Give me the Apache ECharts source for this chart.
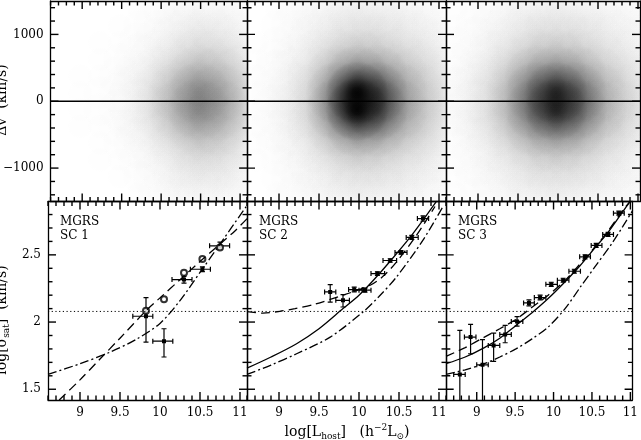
<!DOCTYPE html>
<html><head><meta charset="utf-8">
<script src="https://cdn.jsdelivr.net/npm/echarts@6/dist/echarts.min.js"></script>
<style>html,body{margin:0;padding:0;background:#fff}#c{width:641px;height:440px}</style>
</head><body><div id="c"></div>
<script>
// ---------- tick labels / tick positions ----------
const xMajor = [9, 9.5, 10, 10.5, 11];
const yTopMajor = [-1000, 0, 1000];
const yBotMajor = [1.5, 2, 2.5];
const xMinor = [], yTopMinor = [], yBotMinor = [];
for (let k = 86; k <= 111; k++) if (k % 5) xMinor.push(k / 10);
for (let k = -14; k <= 14; k += 2) if (k % 10) yTopMinor.push(k * 100);
for (let k = 15; k <= 28; k++) if (k % 5) yBotMinor.push(k / 10);

// ---------- top row: velocity-difference point density (0-10) ----------
const xBins = [8.725, 8.975, 9.225, 9.475, 9.725, 9.975, 10.225, 10.475, 10.725, 10.975];
const yBins = [1375, 1125, 875, 625, 375, 125, -125, -375, -625, -875, -1125, -1375];
const sc1Density = [
  [0, 0, 0, 0, 0.1, 0.2, 0.4, 0.6, 0.5, 0.4],
  [0, 0, 0, 0.1, 0.2, 0.4, 0.7, 1.0, 0.9, 0.6],
  [0, 0, 0.1, 0.1, 0.3, 0.6, 1.1, 1.6, 1.4, 1.0],
  [0, 0, 0.1, 0.2, 0.4, 1.0, 1.9, 2.6, 2.3, 1.6],
  [0, 0.1, 0.1, 0.3, 0.7, 1.6, 3.0, 4.4, 3.6, 2.4],
  [0, 0.1, 0.2, 0.3, 0.9, 2.2, 4.2, 6.0, 4.8, 3.0],
  [0, 0.1, 0.2, 0.3, 0.9, 2.2, 4.2, 6.0, 4.8, 3.0],
  [0, 0.1, 0.1, 0.3, 0.7, 1.6, 3.0, 4.4, 3.6, 2.4],
  [0, 0, 0.1, 0.2, 0.4, 1.0, 1.9, 2.6, 2.3, 1.6],
  [0, 0, 0.1, 0.1, 0.3, 0.6, 1.2, 1.7, 1.5, 1.1],
  [0, 0, 0, 0.1, 0.2, 0.4, 0.8, 1.1, 1.0, 0.7],
  [0, 0, 0, 0, 0.1, 0.3, 0.5, 0.7, 0.6, 0.5]
];
const sc2Density = [
  [0, 0.1, 0.3, 0.5, 0.8, 1.0, 0.9, 0.8, 0.6, 0.4],
  [0, 0.2, 0.4, 0.7, 1.1, 1.4, 1.3, 1.1, 0.8, 0.6],
  [0.1, 0.2, 0.5, 1.0, 1.7, 2.2, 2.0, 1.6, 1.2, 0.8],
  [0.1, 0.3, 0.7, 1.5, 2.9, 3.8, 3.4, 2.6, 1.8, 1.2],
  [0.1, 0.4, 1.0, 2.3, 5.0, 7.0, 6.2, 4.2, 2.7, 1.7],
  [0.1, 0.5, 1.2, 2.9, 7.0, 10, 8.8, 5.6, 3.3, 2.0],
  [0.1, 0.5, 1.2, 2.9, 7.0, 10, 8.8, 5.6, 3.3, 2.0],
  [0.1, 0.4, 1.0, 2.3, 5.0, 7.0, 6.2, 4.2, 2.7, 1.7],
  [0.1, 0.3, 0.7, 1.5, 2.9, 3.8, 3.4, 2.6, 1.8, 1.2],
  [0.1, 0.2, 0.5, 1.0, 1.7, 2.2, 2.0, 1.6, 1.2, 0.8],
  [0, 0.2, 0.4, 0.7, 1.1, 1.4, 1.3, 1.1, 0.8, 0.6],
  [0, 0.1, 0.3, 0.5, 0.8, 1.0, 0.9, 0.8, 0.6, 0.4]
];
const sc3Density = [
  [0.1, 0.2, 0.4, 0.7, 0.9, 1.0, 0.9, 0.7, 0.5, 0.4],
  [0.1, 0.3, 0.5, 0.9, 1.3, 1.4, 1.3, 1.0, 0.7, 0.5],
  [0.2, 0.4, 0.8, 1.4, 2.0, 2.2, 2.0, 1.5, 1.0, 0.7],
  [0.2, 0.6, 1.2, 2.2, 3.3, 3.8, 3.3, 2.3, 1.5, 1.0],
  [0.3, 0.8, 1.8, 3.5, 5.6, 6.6, 5.6, 3.6, 2.2, 1.4],
  [0.4, 1.0, 2.2, 4.5, 7.6, 9.4, 7.8, 4.8, 2.8, 1.7],
  [0.4, 1.0, 2.2, 4.5, 7.6, 9.4, 7.8, 4.8, 2.8, 1.7],
  [0.3, 0.8, 1.8, 3.5, 5.6, 6.6, 5.6, 3.6, 2.2, 1.4],
  [0.2, 0.6, 1.2, 2.2, 3.3, 3.8, 3.3, 2.3, 1.5, 1.0],
  [0.2, 0.4, 0.8, 1.4, 2.0, 2.2, 2.0, 1.5, 1.0, 0.7],
  [0.1, 0.3, 0.5, 0.9, 1.3, 1.4, 1.3, 1.0, 0.7, 0.5],
  [0.1, 0.2, 0.4, 0.7, 0.9, 1.0, 0.9, 0.7, 0.5, 0.4]
];
const zeroLevel = 0;

// ---------- bottom row: log sigma_sat ----------
const refLevel = 2.079;
// SC 1
const sc1X    = [9.825, 10.05, 10.3, 10.53, 10.75];
const sc1XLo  = [9.66, 9.91, 10.15, 10.38, 10.62];
const sc1XHi  = [9.91, 10.16, 10.4, 10.63, 10.87];
const sc1Y    = [2.043, 1.858, 2.316, 2.393, 2.567];
const sc1YLo  = [1.851, 1.74, 2.29, 2.375, 2.54];
const sc1YHi  = [2.182, 1.95, 2.34, 2.41, 2.595];
const sc1OpenY = [2.085, 2.169, 2.366, 2.47, 2.555];
const sc1Dashed  = [[8.74,1.42],[9.0,1.57],[9.25,1.725],[9.5,1.88],[9.83,2.087],[10.0,2.18],[10.25,2.315],[10.5,2.45],[10.75,2.58],[10.94,2.68],[11.09,2.77]];
const sc1DashDot = [[8.6,1.61],[9.0,1.69],[9.375,1.776],[9.7,1.87],[10.0,1.99],[10.25,2.16],[10.52,2.386],[10.75,2.58],[11.09,2.87]];
// SC 2
const sc2X    = [9.64, 9.80, 9.94, 10.075, 10.23, 10.39, 10.525, 10.66, 10.8];
const sc2XLo  = [9.57, 9.71, 9.87, 10.0, 10.15, 10.3, 10.45, 10.59, 10.73];
const sc2XHi  = [9.71, 9.88, 10.04, 10.15, 10.32, 10.47, 10.6, 10.74, 10.87];
const sc2Y    = [2.224, 2.162, 2.242, 2.237, 2.361, 2.458, 2.518, 2.63, 2.77];
const sc2YLo  = [2.149, 2.112, 2.225, 2.222, 2.348, 2.445, 2.505, 2.615, 2.75];
const sc2YHi  = [2.279, 2.204, 2.26, 2.252, 2.374, 2.471, 2.531, 2.645, 2.79];
const sc2Solid   = [[8.6,1.657],[8.9,1.74],[9.22,1.839],[9.5,1.95],[9.8,2.1],[10.0,2.2],[10.18,2.311],[10.4,2.46],[10.66,2.647],[10.85,2.8],[10.97,2.9]];
const sc2Dashed  = [[8.6,2.078],[8.8,2.066],[9.01,2.08],[9.2,2.1],[9.43,2.13],[9.8,2.2],[10.14,2.274],[10.3,2.34],[10.47,2.448],[10.72,2.647],[10.95,2.86]];
const sc2DashDot = [[8.6,1.61],[8.9,1.68],[9.22,1.764],[9.64,1.888],[10.05,2.075],[10.25,2.19],[10.47,2.336],[10.8,2.61],[11.05,2.86]];
// SC 3
const sc3X    = [8.78, 8.92, 9.075, 9.22, 9.37, 9.525, 9.68, 9.825, 9.97, 10.125, 10.27, 10.41, 10.555, 10.71, 10.85];
const sc3XLo  = [8.7, 8.84, 9.0, 9.15, 9.3, 9.45, 9.61, 9.75, 9.9, 10.05, 10.2, 10.34, 10.49, 10.64, 10.78];
const sc3XHi  = [8.85, 8.99, 9.15, 9.3, 9.45, 9.6, 9.75, 9.9, 10.05, 10.2, 10.35, 10.48, 10.63, 10.78, 10.92];
const sc3Y    = [1.61, 1.888, 1.682, 1.826, 1.908, 2.005, 2.142, 2.182, 2.281, 2.311, 2.378, 2.485, 2.57, 2.652, 2.81];
const sc3YLo  = [1.3, 1.764, 1.3, 1.707, 1.846, 1.97, 2.12, 2.165, 2.266, 2.296, 2.363, 2.47, 2.555, 2.637, 2.795];
const sc3YHi  = [1.938, 1.983, 1.869, 1.918, 1.975, 2.04, 2.165, 2.2, 2.296, 2.326, 2.393, 2.5, 2.585, 2.667, 2.825];
const sc3Solid   = [[8.6,1.69],[8.85,1.74],[9.1,1.81],[9.3,1.88],[9.51,1.975],[9.72,2.07],[9.93,2.175],[10.15,2.3],[10.35,2.423],[10.55,2.56],[10.7,2.66],[10.9,2.82],[11.0,2.9]];
const sc3Dashed  = [[8.6,1.744],[8.85,1.81],[9.1,1.888],[9.3,1.95],[9.51,2.02],[9.72,2.11],[9.93,2.2],[10.15,2.31],[10.35,2.436],[10.55,2.565],[10.7,2.67],[10.9,2.83],[11.0,2.9]];
const sc3DashDot = [[8.6,1.61],[8.85,1.645],[9.1,1.69],[9.3,1.74],[9.51,1.8],[9.72,1.875],[9.93,1.963],[10.15,2.1],[10.35,2.261],[10.55,2.42],[10.76,2.585],[10.9,2.71],[11.03,2.83]];
const panelNames = ['SC 1', 'SC 2', 'SC 3'];

// ---------- layout ----------
const cols = [{left: 48, width: 199, max: 11.0875}, {left: 247, width: 199, max: 11.0875}, {left: 446, width: 194, max: 11.025}];
const rows = [{top: 1, height: 200.5, min: -1500, max: 1500, major: yTopMajor, minor: yTopMinor},
              {top: 201.5, height: 198.5, min: 1.42, max: 2.897, major: yBotMajor, minor: yBotMinor}];
const XMIN = 8.6;
const FONT = 'DejaVu Serif';
const BLACK = '#000';

const grid = [], xAxis = [], yAxis = [], series = [];
const lblStyle = {color: BLACK, fontFamily: FONT, fontSize: 12};
function fmt(v) { return v < 0 ? '\u2212' + Math.abs(v) : String(v); }

for (let r = 0; r < 2; r++) {
  for (let c = 0; c < 3; c++) {
    const g = r * 3 + c, col = cols[c], row = rows[r];
    grid.push({left: col.left, top: row.top, width: col.width, height: row.height});
    const xb = {gridIndex: g, type: 'value', min: XMIN, max: col.max, splitLine: {show: false}, axisTick: {show: false}};
    const yb = {gridIndex: g, type: 'value', min: row.min, max: row.max, splitLine: {show: false}, axisTick: {show: false}};
    const line = {show: true, onZero: false, lineStyle: {color: BLACK, width: 1.3}};
    const xLab = r === 1 ? {show: true, customValues: xMajor, margin: 7, formatter: fmt, ...lblStyle} : {show: false};
    const yLab = c === 0 ? {show: true, customValues: row.major, margin: 7, formatter: fmt, ...lblStyle} : {show: false};
    xAxis.push({...xb, position: 'bottom', axisLine: line, axisLabel: xLab});
    xAxis.push({...xb, position: 'top', axisLine: line, axisLabel: {show: false}});
    yAxis.push({...yb, position: 'left', axisLine: line, axisLabel: yLab});
    yAxis.push({...yb, position: 'right', axisLine: line, axisLabel: {show: false}});
  }
}
function ax(g) { return {xAxisIndex: g * 2, yAxisIndex: g * 2}; }

// density clouds
const BLOB = 1.9; // blob radius in cells
const gaussStops = [0, 0.15, 0.3, 0.45, 0.6, 0.75, 0.9, 1].map(t => ({t, w: t < 1 ? Math.exp(-t * t * 3.1) : 0}));
function densityItem(params, api) {
  const d = api.value(2);
  if (!(d > 0)) return null;
  const ctr = api.coord([api.value(0), api.value(1)]);
  const s = api.size([0.25, 250]);
  const rx = s[0] * BLOB, ry = s[1] * BLOB;
  const D = Math.min(0.96, d * 0.096);
  const a = Math.min(1, -Math.log(1 - D) / 3.4);
  return {type: 'rect', shape: {x: ctr[0] - rx, y: ctr[1] - ry, width: 2 * rx, height: 2 * ry},
    style: {fill: {type: 'radial', x: 0.5, y: 0.5, r: 0.5,
      colorStops: gaussStops.map(g => ({offset: g.t, color: 'rgba(0,0,0,' + (a * g.w).toFixed(4) + ')'}))}}};
}
[sc1Density, sc2Density, sc3Density].forEach((grd, c) => {
  const data = [];
  grd.forEach((rowv, i) => rowv.forEach((d, j) => data.push([xBins[j], yBins[i], d])));
  series.push({type: 'custom', ...ax(c), clip: true, renderItem: densityItem, data: data, silent: true});
  series.push({type: 'line', ...ax(c), data: [[XMIN, zeroLevel], [cols[c].max, zeroLevel]], symbol: 'none', lineStyle: {color: BLACK, width: 1.5}, silent: true});
});

// error bar points
function errItem(params, api) {
  const x = api.value(0), y = api.value(1);
  const p = api.coord([x, y]);
  const xl = api.coord([api.value(2), y]), xh = api.coord([api.value(3), y]);
  const yl = api.coord([x, api.value(4)]), yh = api.coord([x, api.value(5)]);
  const st = {stroke: BLACK, lineWidth: 1.2};
  const cap = 2.5;
  return {type: 'group', children: [
    {type: 'line', shape: {x1: xl[0], y1: p[1], x2: xh[0], y2: p[1]}, style: st},
    {type: 'line', shape: {x1: xl[0], y1: p[1] - cap, x2: xl[0], y2: p[1] + cap}, style: st},
    {type: 'line', shape: {x1: xh[0], y1: p[1] - cap, x2: xh[0], y2: p[1] + cap}, style: st},
    {type: 'line', shape: {x1: p[0], y1: yl[1], x2: p[0], y2: yh[1]}, style: st},
    {type: 'line', shape: {x1: p[0] - cap, y1: yl[1], x2: p[0] + cap, y2: yl[1]}, style: st},
    {type: 'line', shape: {x1: p[0] - cap, y1: yh[1], x2: p[0] + cap, y2: yh[1]}, style: st},
    {type: 'rect', shape: {x: p[0] - 2, y: p[1] - 2, width: 4, height: 4}, style: {fill: BLACK}}
  ]};
}
const pts = [
  [sc1X, sc1XLo, sc1XHi, sc1Y, sc1YLo, sc1YHi],
  [sc2X, sc2XLo, sc2XHi, sc2Y, sc2YLo, sc2YHi],
  [sc3X, sc3XLo, sc3XHi, sc3Y, sc3YLo, sc3YHi]
];
const curves = [
  {solid: null, dashed: sc1Dashed, dashdot: sc1DashDot},
  {solid: sc2Solid, dashed: sc2Dashed, dashdot: sc2DashDot},
  {solid: sc3Solid, dashed: sc3Dashed, dashdot: sc3DashDot}
];
for (let c = 0; c < 3; c++) {
  const g = 3 + c;
  const col = cols[c];
  series.push({type: 'line', ...ax(g), data: [[XMIN, refLevel], [col.max, refLevel]], symbol: 'none', lineStyle: {color: BLACK, width: 1, type: [1.2, 2.5]}, silent: true});
  const cv = curves[c];
  if (cv.solid) series.push({type: 'line', ...ax(g), data: cv.solid, smooth: 0.3, symbol: 'none', lineStyle: {color: BLACK, width: 1.3}, silent: true});
  series.push({type: 'line', ...ax(g), data: cv.dashed, smooth: 0.3, symbol: 'none', lineStyle: {color: BLACK, width: 1.3, type: [9, 5]}, silent: true});
  series.push({type: 'line', ...ax(g), data: cv.dashdot, smooth: 0.3, symbol: 'none', lineStyle: {color: BLACK, width: 1.3, type: [9, 3, 2, 3]}, silent: true});
  const P = pts[c];
  series.push({type: 'custom', ...ax(g), clip: true, renderItem: errItem, silent: true,
    data: P[0].map((x, i) => [x, P[3][i], P[1][i], P[2][i], P[4][i], P[5][i]])});
}
series.push({type: 'scatter', ...ax(3), data: sc1X.map((x, i) => [x, sc1OpenY[i]]), symbol: 'emptyCircle', symbolSize: 6,
  itemStyle: {color: BLACK, borderColor: BLACK, borderWidth: 1}, silent: true});

// inward ticks on all four sides: one two-point line series per tick, drawn through each panel's scales
for (let r = 0; r < 2; r++) for (let c = 0; c < 3; c++) {
  const g = r * 3 + c, row = rows[r], col = cols[c];
  const yPerPx = (row.max - row.min) / row.height, xPerPx = (col.max - XMIN) / col.width;
  const xs = xMajor.map(v => [v, 8]).concat(xMinor.map(v => [v, 4.5])).filter(t => t[0] <= col.max + 1e-9);
  const ys = row.major.map(v => [v, 8]).concat(row.minor.map(v => [v, 4.5]));
  const segs = [];
  xs.forEach(([v, L]) => {
    segs.push([[v, row.min], [v, row.min + L * yPerPx]]);
    segs.push([[v, row.max], [v, row.max - L * yPerPx]]);
  });
  ys.forEach(([v, L]) => {
    segs.push([[XMIN, v], [XMIN + L * xPerPx, v]]);
    segs.push([[col.max, v], [col.max - L * xPerPx, v]]);
  });
  segs.forEach(d => series.push({type: 'line', ...ax(g), data: d, symbol: 'none', showSymbol: false,
    clip: false, silent: true, z: 10, lineStyle: {color: BLACK, width: 1.4, cap: 'butt'}}));
}

// text
const graphic = [];
for (let c = 0; c < 3; c++) {
  graphic.push({type: 'text', left: cols[c].left + 12, top: 215, style: {text: 'MGRS\n' + panelNames[c], font: '12px "DejaVu Serif"', fill: BLACK, lineHeight: 14}});
}
graphic.push({type: 'text', x: 2, y: 100, rotation: Math.PI / 2, style: {text: '\u0394v  (km/s)', font: '14px "DejaVu Serif"', fill: BLACK, align: 'center', verticalAlign: 'middle'}});
graphic.push({type: 'text', x: 2, y: 320, rotation: Math.PI / 2, style: {text: '{a|log[\u03c3}{s|sat}{a|]  (km/s)}', align: 'center', verticalAlign: 'middle',
  rich: {a: {font: '14px "DejaVu Serif"', fill: BLACK, lineHeight: 18}, s: {font: '9px "DejaVu Serif"', fill: BLACK, verticalAlign: 'bottom', lineHeight: 9}}}});
graphic.push({type: 'text', x: 347, y: 432, style: {text: '{a|log[L}{s|host}{a|]   (h}{p|\u22122}{a|L}{s|\u2299}{a|)}', align: 'center', verticalAlign: 'middle',
  rich: {a: {font: '14px "DejaVu Serif"', fill: BLACK, lineHeight: 18}, s: {font: '9px "DejaVu Serif"', fill: BLACK, verticalAlign: 'bottom', lineHeight: 9}, p: {font: '9px "DejaVu Serif"', fill: BLACK, verticalAlign: 'top', lineHeight: 9}}}});

const chart = echarts.init(document.getElementById('c'), null, {renderer: 'canvas'});
chart.setOption({animation: false, backgroundColor: '#fff', grid, xAxis, yAxis, series, graphic});
</script></body></html>
